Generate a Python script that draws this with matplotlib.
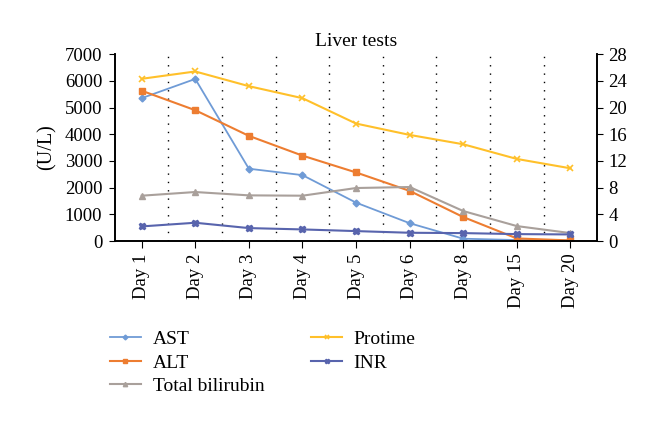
import numpy as np
import matplotlib.pyplot as plt

plt.rcParams['font.family'] = ['Liberation Serif', 'DejaVu Serif']

days = ["Day 1", "Day 2", "Day 3", "Day 4", "Day 5", "Day 6", "Day 8", "Day 15", "Day 20"]
ast = [5350, 6070, 2710, 2470, 1440, 670, 90, 40, 20]
alt = [5630, 4900, 3940, 3200, 2570, 1880, 900, 100, 25]
bilirubin = [6.8, 7.35, 6.85, 6.8, 7.95, 8.1, 4.5, 2.25, 1.2]
protime = [24.3, 25.4, 23.2, 21.4, 17.6, 15.9, 14.5, 12.3, 10.9]
inr = [2.2, 2.75, 1.95, 1.75, 1.5, 1.25, 1.2, 1.05, 1.0]

c_ast = "#6f9bd6"
c_alt = "#ed7d31"
c_bil = "#a9a09b"
c_pro = "#ffc02a"
c_inr = "#5864ad"

fig = plt.figure(figsize=(6.6, 4.26), dpi=100)
ax = fig.add_axes([0.174, 0.434, 0.731, 0.439])
ax2 = ax.twinx()

x = np.arange(len(days))
l1, = ax.plot(x, ast, color=c_ast, marker="D", ms=3.5, lw=1.3, label="AST")
l2, = ax.plot(x, alt, color=c_alt, marker="s", ms=4.5, lw=1.5, label="ALT")
l3, = ax2.plot(x, bilirubin, color=c_bil, marker="^", ms=4.5, lw=1.5, label="Total bilirubin")
l4, = ax2.plot(x, protime, color=c_pro, marker="x", ms=4.5, mew=1.2, lw=1.5, label="Protime")
l5, = ax2.plot(x, inr, color=c_inr, marker="X", ms=4.5, lw=1.5, label="INR")

ax.set_xlim(-0.5, len(days) - 0.5)
ax.set_ylim(0, 7000)
ax2.set_ylim(0, 28)
ax.set_yticks(range(0, 7001, 1000))
ax2.set_yticks(range(0, 29, 4))
ax.set_xticks(x)
ax.set_xticklabels(days, rotation=90, fontsize=13.5)
ax.tick_params(axis="y", labelsize=13.5, direction="out", length=4, pad=5)
ax2.tick_params(axis="y", labelsize=13.5, direction="out", length=4, pad=4)
ax.tick_params(axis="x", length=5, direction="out", pad=4)

# dotted separators between categories
for b in np.arange(0.5, len(days) - 1, 1):
    ax.axvline(b, color="black", ls=(0, (1, 5)), lw=1.0, zorder=0)

for a in (ax, ax2):
    a.spines["top"].set_visible(False)
    for s in ("left", "right", "bottom"):
        a.spines[s].set_linewidth(1.2)

ax.set_ylabel("(U/L)", fontsize=14.5, labelpad=6)
ax.set_title("Liver tests", fontsize=14, pad=6)

fig.legend(handles=[l1, l2, l3, l4, l5], ncol=2, loc="upper left",
           bbox_to_anchor=(0.14, 0.265), frameon=False, fontsize=14,
           handlelength=1.6, handletextpad=0.6, columnspacing=2.4,
           labelspacing=0.3, markerscale=0.7)

fig.savefig("out.png", dpi=100)
